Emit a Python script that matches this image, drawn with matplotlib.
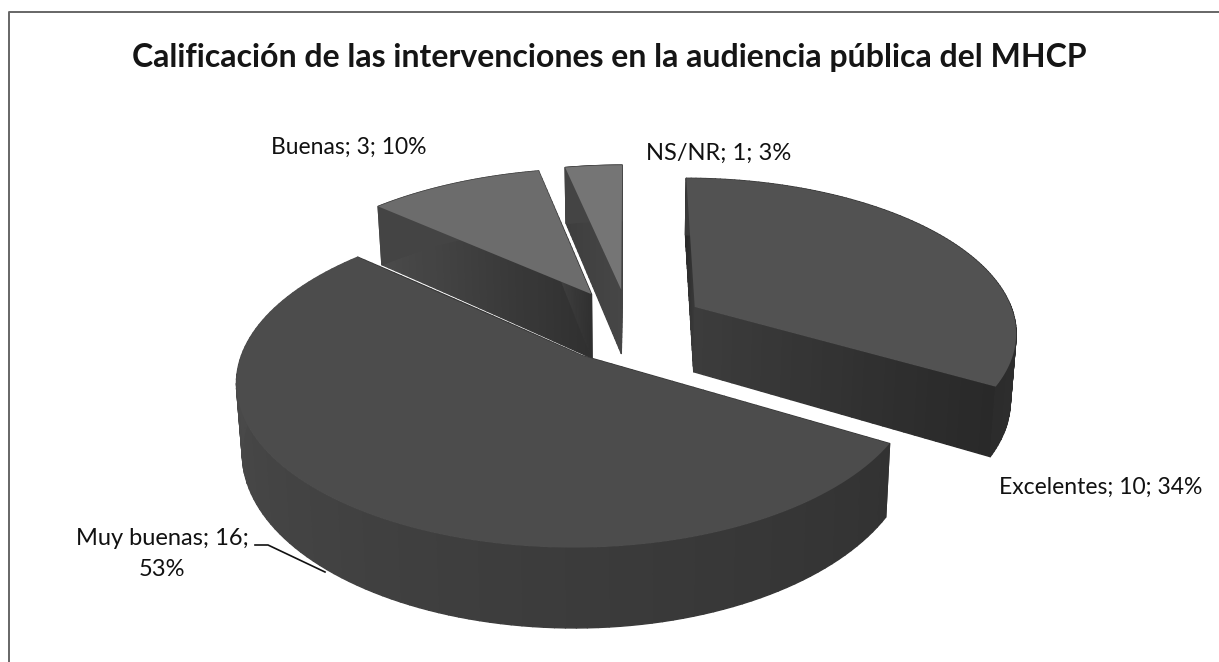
import numpy as np
import matplotlib
matplotlib.use('Agg')
import matplotlib.pyplot as plt

titulo = "Calificación de las intervenciones en la audiencia pública del MHCP"
categorias = ["Excelentes", "Muy buenas", "Buenas", "NS/NR"]
valores = [10, 16, 3, 1]
porcentajes = [34, 53, 10, 3]

gris_top = ['#525252', '#4c4c4c', '#6c6c6c', '#757575']
# (inicio, fin) de cada pared exterior, en sentido horario
gris_wall = [('#3a3a3a', '#2c2c2c'), ('#323232', '#505050'), ('#444444', '#444444'), ('#444444', '#444444')]
# (vertice, borde) de cada pared radial
gris_rad = [('#3c3c3c', '#292929'), ('#363636', '#363636'), ('#303030', '#4a4a4a'), ('#464646', '#3e3e3e')]

# parametros de la vista 3D (pixeles)
XC, YC = 629, 325
A, B = 322, 153
P = 0.15
DEPTH = 66
EXPL = 0.24


def project(u, v, z=0.0):
    w = 1 + P * v
    x = XC + A * u / w - 7 * np.minimum(u, 0) ** 2
    y = YC - B * v / w
    # z=1 es la base del pie
    return x - (x - XC) * 0.015 * z, y + DEPTH * z / w


def mezcla(c0, c1, f):
    a = np.array(matplotlib.colors.to_rgb(c0))
    b = np.array(matplotlib.colors.to_rgb(c1))
    return a + (b - a) * f


def pared(ax, u, v, c0, c1):
    # banda vertical entre z=0 y z=1, por tramos para el degradado
    x1, y1 = project(u, v, 0)
    x2, y2 = project(u, v, 1)
    n = len(u) - 1
    for k in range(n):
        c = mezcla(c0, c1, k / max(n - 1, 1))
        ax.fill([x1[k], x1[k + 1], x2[k + 1], x2[k]], [y1[k], y1[k + 1], y2[k + 1], y2[k]],
                fc=c, ec=c, lw=1.0, joinstyle='round')


plt.rcParams['font.family'] = ['Lato', 'DejaVu Sans']
fig = plt.figure(figsize=(12.19, 6.62), dpi=100)
ax = fig.add_axes([0, 0, 1, 1])
ax.set_xlim(0, 1219)
ax.set_ylim(662, 0)
ax.axis('off')

# marco: solo izquierda y arriba
ax.plot([8.5, 8.5, 1219], [662, 11.5, 11.5], color='#666666', lw=1.4)

fr = np.array(valores) / sum(valores)
bordes = np.concatenate([[0], np.cumsum(fr)]) * 2 * np.pi

# de atras hacia adelante
for i in [3, 2, 0, 1]:
    t0, t1 = bordes[i], bordes[i + 1]
    mid = (t0 + t1) / 2
    ou, ov = EXPL * np.sin(mid), EXPL * np.cos(mid)
    t = np.linspace(t0, t1, 120)
    au, av = np.sin(t) + ou, np.cos(t) + ov
    # paredes radiales
    for a in (t0, t1):
        s = np.linspace(0, 1, 30)
        pared(ax, ou + s * np.sin(a), ov + s * np.cos(a), gris_rad[i][0], gris_rad[i][1])
    # pared exterior
    pared(ax, au, av, gris_wall[i][0], gris_wall[i][1])
    # cara superior
    x, y = project(np.r_[ou, au], np.r_[ov, av], 0)
    ax.fill(x, y, color=gris_top[i], lw=0)

ax.text(609, 57, titulo, fontsize=23, fontweight='bold', color='#151515', ha='center', va='center')

etq = ["%s; %d; %d%%" % (c, v, p) for c, v, p in zip(categorias, valores, porcentajes)]
ax.text(1101, 487, etq[0], fontsize=16.5, color='#111111', ha='center', va='center')
ax.text(162, 554, "%s; %d;\n%d%%" % (categorias[1], valores[1], porcentajes[1]), fontsize=17,
        color='#111111', ha='center', va='center', linespacing=1.55)
ax.text(349, 147, etq[2], fontsize=16.5, color='#111111', ha='center', va='center')
ax.text(719, 153, etq[3], fontsize=17, color='#111111', ha='center', va='center')
ax.plot([255, 268, 325], [545, 545, 572], color='#111111', lw=1.2)

fig.savefig('out.png', dpi=100)
